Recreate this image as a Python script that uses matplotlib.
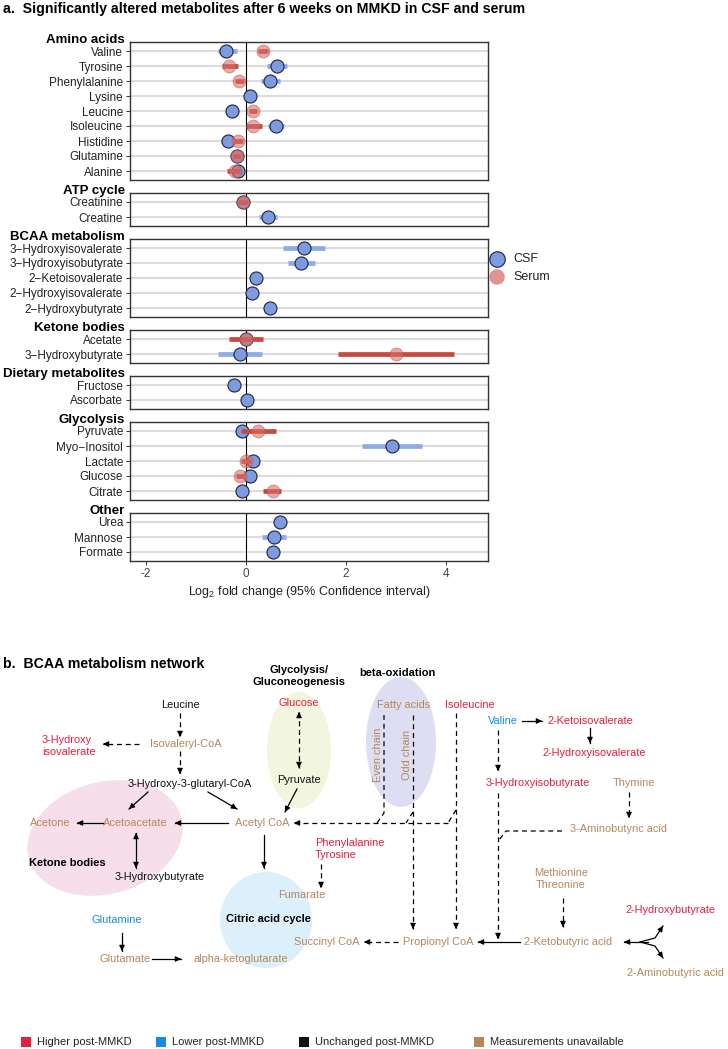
import numpy as np
import matplotlib.pyplot as plt
from matplotlib.patches import Ellipse

plt.rcParams['font.family'] = ['Liberation Sans', 'DejaVu Sans']
plt.rcParams['axes.unicode_minus'] = False
plt.rcParams['mathtext.fontset'] = 'custom'
plt.rcParams['mathtext.rm'] = 'Liberation Sans'

nan = np.nan
W, H = 728, 1049

# ---------------- panel a data ----------------
groups = ['Amino acids', 'ATP cycle', 'BCAA metabolism', 'Ketone bodies',
          'Dietary metabolites', 'Glycolysis', 'Other']
metabolites = [
    ['Valine', 'Tyrosine', 'Phenylalanine', 'Lysine', 'Leucine', 'Isoleucine',
     'Histidine', 'Glutamine', 'Alanine'],
    ['Creatinine', 'Creatine'],
    ['3\u2212Hydroxyisovalerate', '3\u2212Hydroxyisobutyrate', '2\u2212Ketoisovalerate',
     '2\u2212Hydroxyisovalerate', '2\u2212Hydroxybutyrate'],
    ['Acetate', '3\u2212Hydroxybutyrate'],
    ['Fructose', 'Ascorbate'],
    ['Pyruvate', 'Myo\u2212Inositol', 'Lactate', 'Glucose', 'Citrate'],
    ['Urea', 'Mannose', 'Formate'],
]
csf_fc = [[-0.39, 0.63, 0.48, 0.08, -0.28, 0.60, -0.35, -0.17, -0.15],
          [-0.06, 0.45],
          [1.16, 1.11, 0.20, 0.13, 0.49],
          [0.00, -0.12],
          [-0.24, 0.03],
          [-0.08, 2.92, 0.15, 0.08, -0.08],
          [0.68, 0.57, 0.55]]
csf_lo = [[-0.56, 0.43, 0.30, 0.02, -0.36, 0.45, -0.50, -0.23, -0.22],
          [-0.11, 0.27],
          [0.74, 0.85, 0.14, 0.08, 0.43],
          [-0.05, -0.56],
          [-0.30, -0.02],
          [-0.13, 2.32, 0.09, 0.02, -0.13],
          [0.62, 0.33, 0.49]]
csf_hi = [[-0.18, 0.83, 0.68, 0.14, -0.20, 0.76, -0.22, -0.11, -0.08],
          [-0.01, 0.63],
          [1.58, 1.39, 0.26, 0.18, 0.55],
          [0.05, 0.33],
          [-0.18, 0.08],
          [-0.03, 3.52, 0.21, 0.14, -0.03],
          [0.74, 0.80, 0.61]]
serum_fc = [[0.34, -0.34, -0.13, nan, 0.15, 0.15, -0.16, -0.17, -0.22],
            [-0.06, nan],
            [nan, nan, nan, nan, nan],
            [0.00, 3.00],
            [nan, nan],
            [0.25, nan, 0.00, -0.11, 0.54],
            [nan, nan, nan]]
serum_lo = [[0.24, -0.48, -0.22, nan, 0.07, 0.00, -0.26, -0.25, -0.37],
            [-0.15, nan],
            [nan, nan, nan, nan, nan],
            [-0.34, 1.84],
            [nan, nan],
            [-0.10, nan, -0.10, -0.20, 0.34],
            [nan, nan, nan]]
serum_hi = [[0.44, -0.15, -0.04, nan, 0.23, 0.33, -0.05, -0.09, -0.10],
            [0.04, nan],
            [nan, nan, nan, nan, nan],
            [0.34, 4.16],
            [nan, nan],
            [0.60, nan, 0.10, -0.02, 0.71],
            [nan, nan, nan]]
x_ticks = [-2, 0, 2, 4]

csf_col, csf_bar = '#7f9be0', '#8eaae8'
ser_col, ser_bar = '#d8706a', '#c9483f'

fig = plt.figure(figsize=(W / 100, H / 100), dpi=100)

top = 42
row_px = 15
for g in range(len(groups)):
    n = len(metabolites[g])
    h = (n + 0.2) * row_px
    ax = fig.add_axes([130 / W, 1 - (top + h) / H, (488 - 130) / W, h / H])
    y = np.arange(n)
    for yy in y:
        ax.axhline(yy, color='#dcdcdc', lw=1.5, zorder=0)
    ax.axvline(0, color='black', lw=0.8, zorder=1)
    ax.hlines(y, csf_lo[g], csf_hi[g], color=csf_bar, lw=3.4, zorder=2)
    ax.scatter(csf_fc[g], y, s=88, color=csf_col, edgecolor='#1c2340', lw=0.8, zorder=3)
    ax.hlines(y, serum_lo[g], serum_hi[g], color=ser_bar, lw=3.4, zorder=4)
    ax.scatter(serum_fc[g], y, s=88, color=ser_col, alpha=0.6, edgecolor='#b04a44', lw=0.5, zorder=5)
    ax.set_xlim(-2.32, 4.84)
    ax.set_ylim(n - 1 + 0.6, -0.6)
    ax.set_yticks(y)
    ax.set_yticklabels(metabolites[g], fontsize=8.5, color='#222222')
    ax.tick_params(axis='y', length=3, width=0.7, color='#333333', pad=2)
    ax.set_xticks(x_ticks)
    if g == len(groups) - 1:
        ax.tick_params(axis='x', length=3, width=0.7, color='#333333', labelsize=8.5,
                       labelcolor='#444444', pad=2)
    else:
        ax.tick_params(axis='x', length=0, labelbottom=False)
    for sp in ax.spines.values():
        sp.set_color('#333333')
        sp.set_linewidth(1.0)
    fig.text(125 / W, 1 - (top + 1) / H, groups[g], ha='right', va='baseline',
             fontsize=9.5, fontweight='bold')
    top += h + 13

fig.text(309 / W, 1 - 592 / H, 'Log$_2$ fold change (95% Confidence interval)',
         ha='center', va='center', fontsize=9, color='#222222')
fig.text(3 / W, 1 - 9 / H,
         'a.  Significantly altered metabolites after 6 weeks on MMKD in CSF and serum',
         ha='left', va='center', fontsize=10.2, fontweight='bold')

# ---------------- panel b: network ----------------
axb = fig.add_axes([0, 0, 1, 1])
axb.set_xlim(0, W)
axb.set_ylim(H, 0)
axb.axis('off')

# legend for panel a
axb.scatter([497], [259], s=125, color=csf_col, edgecolor='#1c2340', lw=0.8)
axb.scatter([497], [277], s=125, color=ser_col, alpha=0.75, edgecolor='none')
axb.text(513, 259, 'CSF', va='center', fontsize=9, color='#222222')
axb.text(513, 277, 'Serum', va='center', fontsize=9, color='#222222')

axb.text(3, 664, 'b.  BCAA metabolism network', ha='left', va='center',
         fontsize=10.2, fontweight='bold')

status_colors = {'higher': '#e3203f', 'lower': '#1a8ae0',
                 'unchanged': '#111111', 'unavailable': '#b5875c'}
status_labels = ['Higher post-MMKD', 'Lower post-MMKD', 'Unchanged post-MMKD',
                 'Measurements unavailable']

# background regions
regions = [((105, 838), 158, 112, -15, '#f6dfea'),
           ((299, 750), 64, 116, 0, '#f2f6df'),
           ((401, 742), 70, 130, 0, '#dedef2'),
           ((266, 920), 92, 96, 0, '#dcf0fb')]
for c, w, hh, ang, col in regions:
    axb.add_patch(Ellipse(c, w, hh, angle=ang, color=col, zorder=0, lw=0))

nodes = ['Leucine', 'Glucose', 'Fatty acids', 'Isoleucine', 'Valine',
         '2-Ketoisovalerate', '2-Hydroxyisovalerate', '3-Hydroxy\nisovalerate',
         'Isovaleryl-CoA', '3-Hydroxy-3-glutaryl-CoA', 'Pyruvate',
         '3-Hydroxyisobutyrate', 'Thymine', 'Acetone', 'Acetoacetate', 'Acetyl CoA',
         '3-Aminobutyric acid', 'Phenylalanine\nTyrosine', '3-Hydroxybutyrate',
         'Methionine\nThreonine', 'Fumarate', '2-Hydroxybutyrate', 'Glutamine',
         'Succinyl CoA', 'Propionyl CoA', '2-Ketobutyric acid', 'Glutamate',
         'alpha-ketoglutarate', '2-Aminobutyric acid', 'Even chain', 'Odd chain']
node_status = ['unchanged', 'higher', 'unavailable', 'higher', 'lower',
               'higher', 'higher', 'higher',
               'unavailable', 'unchanged', 'unchanged',
               'higher', 'unavailable', 'unavailable', 'unavailable', 'unavailable',
               'unavailable', 'higher', 'unchanged',
               'unavailable', 'unavailable', 'higher', 'lower',
               'unavailable', 'unavailable', 'unavailable', 'unavailable',
               'unavailable', 'unavailable', 'unavailable', 'unavailable']

layout = {
    'Leucine': (180, 705), 'Glucose': (299, 703), 'Fatty acids': (404, 705),
    'Isoleucine': (470, 705), 'Valine': (503, 721), '2-Ketoisovalerate': (590, 721),
    '2-Hydroxyisovalerate': (594, 753), '3-Hydroxy\nisovalerate': (42, 746),
    'Isovaleryl-CoA': (186, 744), '3-Hydroxy-3-glutaryl-CoA': (190, 784),
    'Pyruvate': (299, 780), '3-Hydroxyisobutyrate': (538, 783), 'Thymine': (634, 783),
    'Acetone': (50, 823), 'Acetoacetate': (135, 823), 'Acetyl CoA': (262, 823),
    '3-Aminobutyric acid': (619, 829), 'Phenylalanine\nTyrosine': (315, 849),
    '3-Hydroxybutyrate': (160, 877), 'Methionine\nThreonine': (561, 879),
    'Fumarate': (302, 895), '2-Hydroxybutyrate': (670, 910), 'Glutamine': (117, 920),
    'Succinyl CoA': (327, 942), 'Propionyl CoA': (438, 942),
    '2-Ketobutyric acid': (568, 942), 'Glutamate': (125, 959),
    'alpha-ketoglutarate': (241, 959), '2-Aminobutyric acid': (675, 973),
    'Even chain': (378, 755), 'Odd chain': (407, 755),
}
left_aligned = ['3-Hydroxy\nisovalerate', 'Phenylalanine\nTyrosine']
rotated = ['Even chain', 'Odd chain']

for name, st in zip(nodes, node_status):
    x, y = layout[name]
    axb.text(x, y, name, color=status_colors[st], fontsize=7.9,
             ha='left' if name in left_aligned else 'center', va='center',
             rotation=90 if name in rotated else 0, linespacing=1.3, zorder=3)

titles = [('Glycolysis/\nGluconeogenesis', 299, 676), ('beta-oxidation', 397, 673),
          ('Ketone bodies', 67, 863), ('Citric acid cycle', 268, 919)]
for t, x, y in titles:
    axb.text(x, y, t, ha='center', va='center', fontsize=8, fontweight='bold',
             linespacing=1.3, zorder=3)


def head(p0, p1):
    # small solid arrow head at p1 pointing from p0
    d = np.subtract(p1, p0).astype(float)
    d /= np.hypot(*d)
    axb.annotate('', xy=p1, xytext=(p1[0] - 2 * d[0], p1[1] - 2 * d[1]),
                 arrowprops=dict(arrowstyle='-|>', color='k', lw=0.8,
                                 mutation_scale=8, shrinkA=0, shrinkB=0), zorder=4)


def path(pts, dashed=False, end=True, start=False):
    xs, ys = zip(*pts)
    ls = (0, (4, 3)) if dashed else '-'
    axb.plot(xs, ys, color='k', lw=0.9, ls=ls, zorder=2)
    if end:
        head(pts[-2], pts[-1])
    if start:
        head(pts[1], pts[0])


path([(180, 713), (180, 737)], dashed=True)
path([(139, 744), (103, 744)], dashed=True)
path([(180, 751), (180, 774)], dashed=True)
path([(148, 792), (129, 809)])
path([(208, 792), (237, 809)])
path([(297, 789), (285, 812)])
path([(299, 712), (299, 768)], dashed=True, start=True)
path([(228, 823), (175, 823)])
path([(104, 823), (77, 823)])
path([(136, 833), (136, 868)], start=True)
path([(264, 835), (264, 868)])
path([(448, 823), (294, 823)], dashed=True)
path([(384, 715), (384, 813), (377, 823)], dashed=True, end=False)
path([(413, 715), (413, 929)], dashed=True)
path([(413, 812), (406, 823)], dashed=True, end=False)
path([(456, 713), (456, 929)], dashed=True)
path([(456, 810), (448, 823)], dashed=True, end=False)
path([(522, 721), (542, 721)])
path([(590, 728), (590, 743)])
path([(498, 730), (498, 771)], dashed=True)
path([(498, 793), (498, 939)], dashed=True)
path([(562, 831), (506, 831), (499, 840)], dashed=True, end=False)
path([(629, 792), (629, 818)], dashed=True)
path([(321, 864), (321, 888)], dashed=True)
path([(563, 898), (563, 927)], dashed=True)
path([(520, 942), (478, 942)])
path([(398, 942), (364, 942)], dashed=True)
path([(122, 933), (122, 951)])
path([(152, 959), (181, 959)])
path([(648, 942), (624, 942)])
path([(640, 942), (655, 938), (663, 926)])
path([(640, 942), (655, 946), (663, 958)])

# status legend
leg_x = [26, 161, 304, 479]
for x, lab, st in zip(leg_x, status_labels, status_colors):
    axb.scatter([x], [1042], marker='s', s=45, color=status_colors[st], lw=0)
    axb.text(x + 11, 1042, lab, va='center', fontsize=8, color='#222222')

fig.savefig('out.png', dpi=100)
